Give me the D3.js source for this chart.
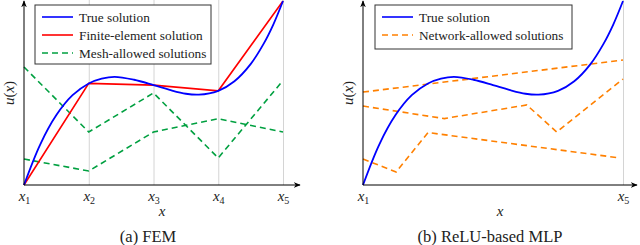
<!DOCTYPE html>
<html>
<head>
<meta charset="utf-8">
<script src="https://cdn.jsdelivr.net/npm/d3@7"></script>
<style>
  body { margin: 0; background: #fff; }
  svg text { font-family: "Liberation Serif", "DejaVu Serif", serif; }
</style>
</head>
<body>
<script>
// nodes x1..x5
const nodes = [1, 2, 3, 4, 5];

// true solution
const tTrue = [1, 1.25, 1.5, 1.75, 2, 2.2, 2.4, 2.7, 3, 3.25, 3.5, 3.7, 4, 4.25, 4.5, 4.7, 4.85, 5];
const uTrue = [0, 2.2, 3.8, 4.88, 5.52, 5.78, 5.88, 5.72, 5.43, 5.17, 4.96, 4.91, 5.12, 5.64, 6.57, 7.67, 8.72, 10];

// finite element solution (values at nodes)
const uFem = [0, 5.52, 5.43, 5.12, 10];

// mesh-allowed solutions (values at nodes)
const meshA = [6.41, 2.88, 5.0, 1.47, 5.68];
const meshB = [1.41, 0.76, 2.88, 3.6, 2.88];

// network-allowed solutions (kink positions + values)
const netT1 = [1, 5], netU1 = [5.05, 6.79];
const netT2 = [1, 2.25, 3.52, 3.98, 5], netU2 = [4.29, 3.61, 4.35, 2.88, 5.76];
const netT3 = [1, 1.51, 2.0, 4.95], netU3 = [1.41, 0.71, 2.85, 1.47];

const W = 640, H = 245;
const FONT = "Liberation Serif, DejaVu Serif, serif";
const svg = d3.select("body").append("svg").attr("width", W).attr("height", H)
  .attr("font-family", FONT);

const defs = svg.append("defs");
defs.append("marker")
  .attr("id", "arr")
  .attr("viewBox", "0 0 10 10")
  .attr("refX", 9).attr("refY", 5)
  .attr("markerWidth", 7).attr("markerHeight", 7)
  .attr("markerUnits", "userSpaceOnUse")
  .attr("orient", "auto")
  .append("path")
  .attr("d", "M0,1 L10,5 L0,9 L3,5 Z")
  .attr("fill", "#000");

const y = d3.scaleLinear().domain([0, 10]).range([185, 1]);

const C = { blue: "#0000ff", red: "#ff0000", green: "#00a040", orange: "#ff8000", grid: "#d4d4d4" };

function zip(ts, us) { return ts.map((t, i) => [t, us[i]]); }

function panel(opts) {
  const x = d3.scaleLinear().domain([1, 5]).range(opts.range);
  const g = svg.append("g");
  const x0 = opts.range[0];

  // grid lines
  g.append("g")
    .attr("transform", "translate(0,185)")
    .call(d3.axisBottom(x).tickValues(opts.grid).tickSize(-185).tickFormat(""))
    .call(s => s.select(".domain").remove())
    .call(s => s.selectAll("line").attr("stroke", C.grid).attr("stroke-width", 1));

  const line = d3.line().x(d => x(d[0])).y(d => y(d[1]));

  opts.dashed.forEach(d => {
    g.append("path").attr("d", line(d))
      .attr("fill", "none").attr("stroke", opts.dashColor)
      .attr("stroke-width", 1.6).attr("stroke-dasharray", "6,4");
  });
  if (opts.fem) {
    g.append("path").attr("d", line(opts.fem))
      .attr("fill", "none").attr("stroke", C.red).attr("stroke-width", 1.6);
  }
  g.append("path").attr("d", d3.line().x(d => x(d[0])).y(d => y(d[1])).curve(d3.curveCatmullRom)(zip(tTrue, uTrue)))
    .attr("fill", "none").attr("stroke", C.blue).attr("stroke-width", 1.8);

  // axes with arrows
  g.append("line").attr("x1", x0).attr("x2", opts.arrowX).attr("y1", 185).attr("y2", 185)
    .attr("stroke", "#000").attr("stroke-width", 1).attr("marker-end", "url(#arr)");
  g.append("line").attr("x1", x0).attr("x2", x0).attr("y1", 185).attr("y2", 1)
    .attr("stroke", "#000").attr("stroke-width", 1).attr("marker-end", "url(#arr)");

  // tick labels
  const ax = g.append("g")
    .attr("transform", "translate(0,185)")
    .call(d3.axisBottom(x).tickValues(opts.ticks).tickSize(0).tickPadding(0).tickFormat(""));
  ax.attr("font-family", FONT);
  ax.select(".domain").remove();
  ax.selectAll(".tick text").remove();
  ax.selectAll(".tick").append("text")
    .attr("y", 16).attr("text-anchor", "middle").attr("fill", "#222")
    .attr("font-size", 15).attr("font-family", FONT)
    .each(function (d) {
      const t = d3.select(this);
      t.append("tspan").attr("font-style", "italic").text("x");
      t.append("tspan").attr("font-size", 10).attr("dy", 3).text(d);
    });

  // axis labels
  g.append("text").attr("x", (x0 + opts.arrowX) / 2).attr("y", 216)
    .attr("text-anchor", "middle").attr("font-size", 15).attr("font-style", "italic").attr("fill", "#222").text("x");
  const yl = g.append("text")
    .attr("transform", `translate(${x0 - 10},93) rotate(-90)`)
    .attr("text-anchor", "middle").attr("font-size", 15).attr("fill", "#222");
  yl.append("tspan").attr("font-style", "italic").text("u");
  yl.append("tspan").text("(");
  yl.append("tspan").attr("font-style", "italic").text("x");
  yl.append("tspan").text(")");

  // caption
  g.append("text").attr("x", opts.capX).attr("y", 242)
    .attr("text-anchor", "middle").attr("font-size", 16.5).attr("fill", "#222").text(opts.caption);

  // legend
  const L = opts.legend;
  g.append("rect").attr("x", L.x).attr("y", 5).attr("width", L.w).attr("height", L.h)
    .attr("fill", "#fff").attr("stroke", "#333").attr("stroke-width", 1);
  L.items.forEach((it, i) => {
    const yy = 17 + i * 18;
    g.append("line").attr("x1", L.x + 7).attr("x2", L.x + 38).attr("y1", yy).attr("y2", yy)
      .attr("stroke", it.color).attr("stroke-width", 1.6)
      .attr("stroke-dasharray", it.dash ? "6,4" : null);
    g.append("text").attr("x", L.x + 44).attr("y", yy + 4.5)
      .attr("font-size", 13.3).attr("fill", "#222").text(it.label);
  });
}

panel({
  range: [24, 283], arrowX: 300,
  grid: [2, 3, 4, 5], ticks: nodes,
  dashed: [zip(nodes, meshA), zip(nodes, meshB)], dashColor: C.green,
  fem: zip(nodes, uFem),
  caption: "(a) FEM", capX: 148,
  legend: { x: 35, w: 176, h: 59, items: [
    { label: "True solution", color: C.blue },
    { label: "Finite-element solution", color: C.red },
    { label: "Mesh-allowed solutions", color: C.green, dash: true }
  ] }
});

panel({
  range: [363, 623], arrowX: 637,
  grid: [5], ticks: [1, 5],
  dashed: [zip(netT1, netU1), zip(netT2, netU2), zip(netT3, netU3)], dashColor: C.orange,
  fem: null,
  caption: "(b) ReLU-based MLP", capX: 490,
  legend: { x: 375, w: 197, h: 44, items: [
    { label: "True solution", color: C.blue },
    { label: "Network-allowed solutions", color: C.orange, dash: true }
  ] }
});
</script>
</body>
</html>
